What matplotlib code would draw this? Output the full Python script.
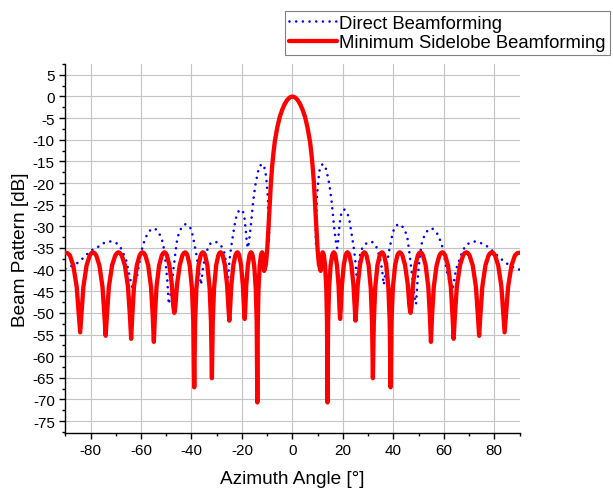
import matplotlib
matplotlib.use("Agg")
import matplotlib.pyplot as plt
from matplotlib.ticker import MultipleLocator, FixedLocator

plt.rcParams['font.family'] = ['Liberation Sans', 'DejaVu Sans']
plt.rcParams['axes.unicode_minus'] = False
plt.rcParams['lines.scale_dashes'] = False

# ---------------- data ----------------
x_ticks = [-80, -60, -40, -20, 0, 20, 40, 60, 80]
y_ticks = [-75, -70, -65, -60, -55, -50, -45, -40, -35, -30, -25, -20, -15, -10, -5, 0, 5]

# Direct beamforming, right half (0 .. 90 deg)
direct_angle_right = [0, 2, 4, 5.5, 7.0, 8.0, 8.6, 9.0, 9.35, 9.7, 10.2, 10.7, 11.4, 12.2, 13.0, 13.6, 14.2, 14.7, 15.2, 15.6,
                      16.0, 16.5, 17.0, 17.4, 17.7, 18.1, 18.5, 19.0, 19.6, 20.5, 21.3, 22.0, 22.6, 23.3, 24.2, 24.9, 25.5, 25.8, 26.2, 26.6,
                      27.1, 28.0, 29.2, 30.3, 31.5, 32.5, 33.5, 34.3, 34.8, 35.5, 36.2, 36.7, 37.5, 38.2, 38.8, 39.7, 40.5, 41.5, 42.3, 43.1,
                      44.0, 44.7, 45.6, 46.3, 47.0, 47.6, 48.3, 49.0, 49.6, 50.3, 51.2, 52.0, 53.1, 54.3, 55.4, 56.5, 57.5, 58.6, 59.5, 60.5,
                      61.5, 62.9, 63.5, 64.2, 64.8, 65.8, 66.6, 67.5, 68.6, 69.4, 70.8, 72.1, 73.4, 74.8, 76.0, 77.1, 79.0, 81.3, 83.6, 85.7,
                      88.4, 90.0]
direct_db_right = [0, -0.7, -2.8, -5.4, -10.0, -15.5, -20.5, -26.0, -34.0, -23.5, -19.8, -17.2, -15.9, -15.6, -16.2, -17.3, -19.0, -20.5, -22.8, -24.5,
                   -27.0, -30.0, -32.5, -34.2, -35.0, -33.5, -30.8, -28.0, -26.6, -26.1, -26.5, -27.4, -28.6, -31.2, -34.5, -37.7, -42.0, -43.5, -39.5, -37.2,
                   -35.8, -34.7, -34.0, -33.6, -33.6, -34.0, -35.0, -36.6, -37.7, -39.9, -43.5, -41.5, -38.6, -36.0, -34.3, -31.6, -30.3, -29.7, -29.5, -29.7,
                   -30.4, -31.1, -32.8, -35.8, -39.2, -42.2, -46.0, -48.0, -42.3, -38.0, -34.1, -32.6, -31.3, -30.6, -30.5, -31.0, -31.8, -33.3, -34.9, -38.0,
                   -41.3, -43.4, -44.5, -42.2, -40.0, -38.3, -37.0, -35.7, -34.5, -34.1, -33.7, -33.5, -33.6, -33.9, -34.2, -34.6, -35.5, -36.8, -38.0, -38.9,
                   -39.7, -40.0]

# Direct beamforming, left half (0 .. -90 deg)
direct_angle_left = [0, -2, -4, -5.5, -7.0, -8.0, -8.6, -9.0, -9.35, -9.7, -10.2, -10.7, -11.4, -12.2, -13.0, -13.6, -14.2, -14.7, -15.2, -15.6,
                     -16.0, -16.5, -17.0, -17.4, -17.7, -18.1, -18.5, -19.0, -19.6, -20.5, -21.3, -22.0, -22.6, -23.3, -24.2, -24.9, -25.5, -25.8, -26.2, -26.6,
                     -27.1, -28.0, -29.2, -30.3, -31.5, -32.5, -33.5, -34.3, -34.8, -35.5, -36.2, -36.7, -37.5, -38.2, -38.8, -39.7, -40.5, -41.5, -42.3, -43.1,
                     -44.0, -44.7, -45.6, -46.3, -47.0, -47.6, -48.3, -49.0, -49.6, -50.3, -51.2, -52.0, -53.1, -54.3, -55.4, -56.5, -57.5, -58.6, -59.5, -60.5,
                     -61.5, -62.9, -63.5, -64.2, -64.8, -65.8, -66.6, -67.5, -68.6, -69.4, -70.8, -72.1, -73.4, -74.8, -76.0, -77.1, -79.0, -81.3, -83.6, -85.7,
                     -88.4, -90.0]
direct_db_left = [0, -0.7, -2.8, -5.4, -10.0, -15.5, -20.5, -26.0, -34.0, -23.5, -19.8, -17.2, -15.9, -15.6, -16.2, -17.3, -19.0, -20.5, -22.8, -24.5,
                  -27.0, -30.0, -32.5, -34.2, -35.0, -33.5, -30.8, -28.0, -26.6, -26.1, -26.5, -27.4, -28.6, -31.2, -34.5, -37.7, -42.0, -43.5, -39.5, -37.2,
                  -35.8, -34.7, -34.0, -33.6, -33.6, -34.0, -35.0, -36.6, -37.7, -39.9, -43.5, -41.5, -38.6, -36.0, -34.3, -31.6, -30.3, -29.7, -29.5, -29.7,
                  -30.4, -31.1, -32.8, -35.8, -39.2, -42.2, -46.0, -48.0, -42.3, -38.0, -34.1, -32.6, -31.3, -30.6, -30.5, -31.0, -31.8, -33.3, -34.9, -38.0,
                  -41.3, -43.4, -44.0, -42.4, -40.7, -38.0, -36.8, -35.5, -34.5, -34.0, -33.6, -33.5, -33.6, -33.9, -34.3, -34.8, -35.3, -36.4, -37.7, -38.7,
                  -39.4, -39.8]

# Minimum sidelobe beamforming, right half (0 .. 90 deg)
minsl_angle_right = [0, 1, 2, 3, 4, 5, 6, 7, 7.5, 8, 8.5, 9, 9.5, 10, 10.5, 11.2, 11.6, 11.8, 12.0, 12.24, 12.47, 12.95, 13.43, 13.71, 13.9,
                     14.15, 14.53, 15.15, 15.78, 16.09, 16.4, 16.71, 17.03, 17.65, 18.28, 18.65, 18.9,
                     19.19, 19.63, 20.35, 21.08, 21.44, 21.8, 22.2, 22.6, 23.4, 24.2, 24.68, 25.0,
                     25.35, 25.88, 26.75, 27.63, 28.06, 28.5, 28.93, 29.35, 30.2, 31.05, 31.56, 31.9,
                     32.26, 32.8, 33.7, 34.6, 35.05, 35.5, 35.93, 36.35, 37.2, 38.05, 38.56, 38.9,
                     39.26, 39.8, 40.7, 41.6, 42.05, 42.5, 43.04, 43.58, 44.65, 45.73, 46.37, 46.8,
                     47.19, 47.78, 48.75, 49.73, 50.21, 50.7, 51.23, 51.75, 52.8, 53.85, 54.48, 54.9,
                     55.35, 56.03, 57.15, 58.28, 58.84, 59.4, 59.96, 60.53, 61.65, 62.78, 63.45, 63.9,
                     64.4, 65.15, 66.4, 67.65, 68.28, 68.9, 69.54, 70.18, 71.45, 72.73, 73.49, 74.0,
                     74.5, 75.25, 76.5, 77.75, 78.38, 79.0, 79.64, 80.28, 81.55, 82.83, 83.59, 84.1,
                     84.65, 85.48, 86.85, 88.2, 89.1, 90.0]
minsl_db_right = [0, -0.2, -0.75, -1.7, -3.0, -4.7, -7.2, -10.5, -13.0, -16.0, -19.8, -25.0, -30.5, -35.5, -38.8, -40.3, -37.0, -36.3, -36.0, -36.2, -36.7, -39.0, -44.3, -52.1, -70.7,
                  -52.1, -44.3, -39.0, -36.7, -36.2, -36.0, -36.2, -36.7, -39.0, -43.6, -48.8, -51.4,
                  -48.8, -43.6, -39.0, -36.7, -36.2, -36.0, -36.2, -36.7, -39.0, -43.6, -48.8, -51.8,
                  -48.8, -43.6, -39.0, -36.7, -36.2, -36.0, -36.2, -36.7, -39.0, -44.3, -52.1, -65.1,
                  -52.1, -44.3, -39.0, -36.7, -36.2, -36.0, -36.2, -36.7, -39.0, -44.3, -52.1, -67.2,
                  -52.1, -44.3, -39.0, -36.7, -36.2, -36.0, -36.2, -36.7, -39.0, -43.5, -48.5, -50.0,
                  -48.5, -43.5, -39.0, -36.7, -36.2, -36.0, -36.2, -36.7, -39.0, -44.0, -50.6, -56.7,
                  -50.6, -44.0, -39.0, -36.7, -36.2, -36.0, -36.2, -36.7, -39.0, -44.0, -50.6, -56.0,
                  -50.6, -44.0, -39.0, -36.7, -36.2, -36.0, -36.2, -36.7, -39.0, -44.0, -50.5, -55.3,
                  -50.5, -44.0, -39.0, -36.7, -36.2, -36.0, -36.2, -36.7, -39.0, -44.0, -50.4, -54.5,
                  -50.4, -44.0, -39.0, -36.7, -36.2, -36.1]

# Minimum sidelobe beamforming, left half (0 .. -90 deg)
minsl_angle_left = [0, -1, -2, -3, -4, -5, -6, -7, -7.5, -8, -8.5, -9, -9.5, -10, -10.5, -11.2, -11.6, -11.8, -12.0, -12.24, -12.47, -12.95, -13.43, -13.71, -13.9,
                    -14.15, -14.53, -15.15, -15.78, -16.09, -16.4, -16.71, -17.03, -17.65, -18.28, -18.65, -18.9,
                    -19.19, -19.63, -20.35, -21.08, -21.44, -21.8, -22.2, -22.6, -23.4, -24.2, -24.68, -25.0,
                    -25.35, -25.88, -26.75, -27.63, -28.06, -28.5, -28.93, -29.35, -30.2, -31.05, -31.56, -31.9,
                    -32.26, -32.8, -33.7, -34.6, -35.05, -35.5, -35.93, -36.35, -37.2, -38.05, -38.56, -38.9,
                    -39.26, -39.8, -40.7, -41.6, -42.05, -42.5, -43.04, -43.58, -44.65, -45.73, -46.37, -46.8,
                    -47.19, -47.78, -48.75, -49.73, -50.21, -50.7, -51.23, -51.75, -52.8, -53.85, -54.48, -54.9,
                    -55.35, -56.03, -57.15, -58.28, -58.84, -59.4, -59.96, -60.53, -61.65, -62.78, -63.45, -63.9,
                    -64.4, -65.15, -66.4, -67.65, -68.28, -68.9, -69.54, -70.18, -71.45, -72.73, -73.49, -74.0,
                    -74.5, -75.25, -76.5, -77.75, -78.38, -79.0, -79.64, -80.28, -81.55, -82.83, -83.59, -84.1,
                    -84.65, -85.48, -86.85, -88.2, -89.1, -90.0]
minsl_db_left = [0, -0.2, -0.75, -1.7, -3.0, -4.7, -7.2, -10.5, -13.0, -16.0, -19.8, -25.0, -30.5, -35.5, -38.8, -40.3, -37.0, -36.3, -36.0, -36.2, -36.7, -39.0, -44.3, -52.1, -70.7,
                 -52.1, -44.3, -39.0, -36.7, -36.2, -36.0, -36.2, -36.7, -39.0, -43.6, -48.8, -51.4,
                 -48.8, -43.6, -39.0, -36.7, -36.2, -36.0, -36.2, -36.7, -39.0, -43.6, -48.8, -51.8,
                 -48.8, -43.6, -39.0, -36.7, -36.2, -36.0, -36.2, -36.7, -39.0, -44.3, -52.1, -65.1,
                 -52.1, -44.3, -39.0, -36.7, -36.2, -36.0, -36.2, -36.7, -39.0, -44.3, -52.1, -67.2,
                 -52.1, -44.3, -39.0, -36.7, -36.2, -36.0, -36.2, -36.7, -39.0, -43.5, -48.5, -50.0,
                 -48.5, -43.5, -39.0, -36.7, -36.2, -36.0, -36.2, -36.7, -39.0, -44.0, -50.6, -56.7,
                 -50.6, -44.0, -39.0, -36.7, -36.2, -36.0, -36.2, -36.7, -39.0, -44.0, -50.6, -56.0,
                 -50.6, -44.0, -39.0, -36.7, -36.2, -36.0, -36.2, -36.7, -39.0, -44.0, -50.5, -55.3,
                 -50.5, -44.0, -39.0, -36.7, -36.2, -36.0, -36.2, -36.7, -39.0, -44.0, -50.4, -54.5,
                 -50.4, -44.0, -39.0, -36.7, -36.2, -36.1]

series_names = ['Direct Beamforming', 'Minimum Sidelobe Beamforming']

# join the halves into one ordered trace (-90 .. 90)
direct_angle = direct_angle_left[::-1] + direct_angle_right[1:]
direct_db = direct_db_left[::-1] + direct_db_right[1:]
minsl_angle = minsl_angle_left[::-1] + minsl_angle_right[1:]
minsl_db = minsl_db_left[::-1] + minsl_db_right[1:]

# ---------------- figure ----------------
fig = plt.figure(figsize=(6.13, 4.89), dpi=100)
ax = fig.add_axes([0.1065, 0.113, 0.741, 0.754])

# dash pattern in points (not scaled by width): tiny dash + gap -> round dots
l1, = ax.plot(direct_angle, direct_db, color='#0000ff', lw=1.9,
              linestyle=(0, (0.01, 4.8)), dash_capstyle='round',
              label=series_names[0], zorder=2)
l2, = ax.plot(minsl_angle, minsl_db, color='#ff0000', lw=3.1,
              solid_joinstyle='round', solid_capstyle='round',
              label=series_names[1], zorder=3)

ax.set_xlim(-90, 90)
ax.set_ylim(-77.7, 7.5)
ax.xaxis.set_major_locator(FixedLocator(x_ticks))
ax.xaxis.set_minor_locator(MultipleLocator(10))
ax.yaxis.set_major_locator(FixedLocator(y_ticks))
ax.yaxis.set_minor_locator(MultipleLocator(2.5))

ax.grid(True, which='major', color='#c4c4c4', lw=0.8)
ax.set_axisbelow(True)
for s in ['top', 'right']:
    ax.spines[s].set_visible(False)
for s in ['left', 'bottom']:
    ax.spines[s].set_linewidth(1.0)
    ax.spines[s].set_color('black')

ax.tick_params(which='major', direction='out', length=4.5, width=1.0,
               labelsize=11, pad=3, colors='black')
ax.tick_params(which='minor', direction='out', length=2.5, width=1.0)

ax.set_xlabel('Azimuth Angle [°]', fontsize=13.7, labelpad=9)
ax.set_ylabel('Beam Pattern [dB]', fontsize=13.7, labelpad=3)

leg = fig.legend(handles=[l1, l2], loc='upper left',
                 bbox_to_anchor=(285 / 613, 1 - 12 / 489),
                 fontsize=13.3, frameon=True, fancybox=False,
                 edgecolor='#808080', framealpha=1, borderpad=0.2,
                 handlelength=2.6, handletextpad=0.15, labelspacing=0.15,
                 borderaxespad=0)
leg.get_frame().set_linewidth(0.8)

fig.savefig('out.png', dpi=100)
